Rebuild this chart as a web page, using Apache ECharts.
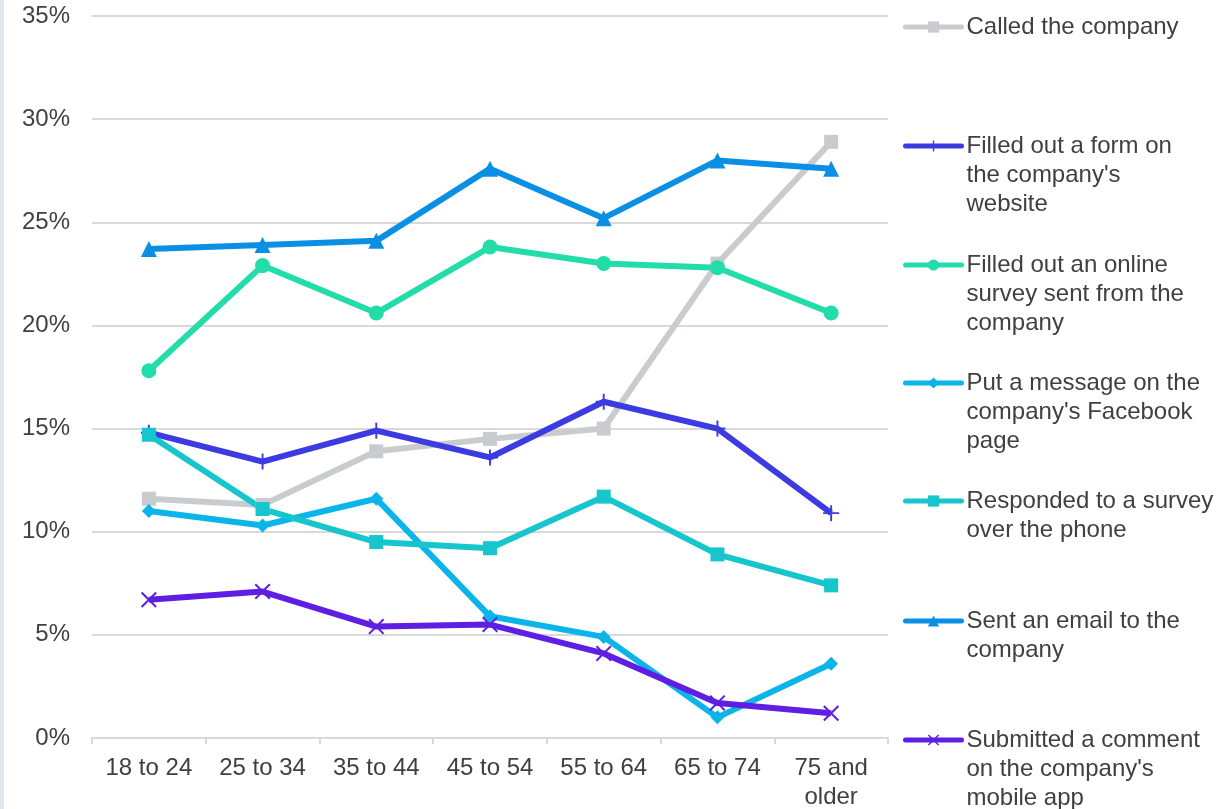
<!DOCTYPE html>
<html>
<head>
<meta charset="utf-8">
<script src="https://cdn.jsdelivr.net/npm/echarts@6/dist/echarts.min.js"></script>
<style>
  html, body { margin: 0; padding: 0; background: #fff; }
  #main { width: 1225px; height: 809px; box-sizing: border-box; border-left: 4px solid #e0e8ee; }
</style>
</head>
<body>
<div id="main"></div>
<script>
// categories and series (values in %)
var ageGroups = ['18 to 24', '25 to 34', '35 to 44', '45 to 54', '55 to 64', '65 to 74', '75 and\nolder'];
var yTicks = [0, 5, 10, 15, 20, 25, 30, 35];

var seriesNames = [
    'Called the company',
    "Filled out a form on the company's website",
    'Filled out an online survey sent from the company',
    "Put a message on the company's Facebook page",
    'Responded to a survey over the phone',
    'Sent an email to the company',
    "Submitted a comment on the company's mobile app"
];
// legend text as wrapped in the picture
var legendLines = [
    'Called the company',
    "Filled out a form on\nthe company's\nwebsite",
    'Filled out an online\nsurvey sent from the\ncompany',
    "Put a message on the\ncompany's Facebook\npage",
    'Responded to a survey\nover the phone',
    'Sent an email to the\ncompany',
    "Submitted a comment\non the company's\nmobile app"
];

var calledCompany = [11.6, 11.3, 13.9, 14.5, 15.0, 23.0, 28.9];
var filledForm    = [14.8, 13.4, 14.9, 13.6, 16.3, 15.0, 10.9];
var onlineSurvey  = [17.8, 22.9, 20.6, 23.8, 23.0, 22.8, 20.6];
var facebookMsg   = [11.0, 10.3, 11.6, 5.9, 4.9, 1.0, 3.6];
var phoneSurvey   = [14.7, 11.1, 9.5, 9.2, 11.7, 8.9, 7.4];
var sentEmail     = [23.7, 23.9, 24.1, 27.6, 25.2, 28.0, 27.6];
var mobileComment = [6.7, 7.1, 5.4, 5.5, 4.1, 1.7, 1.2];

var allValues = [calledCompany, filledForm, onlineSurvey, facebookMsg, phoneSurvey, sentEmail, mobileComment];

var colors = ['#c9ccce', '#3b3be1', '#22dcaa', '#0bb5ea', '#17c5cc', '#0b8fe5', '#5f1fe2'];
var plusPath = 'path://M4.4,0 H5.6 V4.4 H10 V5.6 H5.6 V10 H4.4 V5.6 H0 V4.4 H4.4 Z';
var crossPath = 'path://M0,0.9 L0.9,0 L5,4.1 L9.1,0 L10,0.9 L5.9,5 L10,9.1 L9.1,10 L5,5.9 L0.9,10 L0,9.1 L4.1,5 Z';
var symbols = ['rect', plusPath, 'circle', 'diamond', 'rect', 'triangle', crossPath];
var symbolSizes = [14, 16, 15, 14, 14, 16, 16];

var myChart = echarts.init(document.getElementById('main'));

var fontFam = '"Liberation Sans", Arial, sans-serif';
var textCol = '#404040';
var lineH = 29;
var legendCenters = [27, 146, 265, 383, 501, 621, 740];

var legends = [];
var series = [];
for (var i = 0; i < seriesNames.length; i++) {
    var n = legendLines[i].split('\n').length;
    // leading blank lines so the icon sits beside the first text line
    var lead = new Array(n).join('\n');
    legends.push({
        data: [seriesNames[i]],
        orient: 'vertical',
        left: 899,
        top: legendCenters[i] - (2 * n - 1) * lineH / 2,
        padding: 0,
        itemWidth: 56,
        itemHeight: 14,
        selectedMode: false,
        lineStyle: { width: 5, cap: 'round' },
        formatter: (function (k, pre) { return function () { return pre + legendLines[k]; }; })(i, lead),
        textStyle: {
            fontFamily: fontFam,
            fontSize: 24,
            color: textCol,
            lineHeight: lineH
        }
    });
    series.push({
        name: seriesNames[i],
        type: 'line',
        data: allValues[i],
        symbol: symbols[i],
        symbolSize: symbolSizes[i],
        showAllSymbol: true,
        lineStyle: { width: 6, color: colors[i], join: 'round' },
        itemStyle: { color: colors[i] }
    });
}

var option = {
    animation: false,
    color: colors,
    legend: legends,
    grid: {
        left: 88,
        right: 337,
        top: 16,
        bottom: 71,
        outerBoundsMode: 'none'
    },
    xAxis: {
        type: 'category',
        data: ageGroups,
        boundaryGap: true,
        axisLine: { lineStyle: { color: '#d9d9d9', width: 2 } },
        axisTick: { show: true, length: 6, lineStyle: { color: '#d9d9d9', width: 2 } },
        axisLabel: {
            fontFamily: fontFam,
            fontSize: 24,
            color: textCol,
            lineHeight: lineH,
            margin: 16
        }
    },
    yAxis: {
        type: 'value',
        min: yTicks[0],
        max: yTicks[yTicks.length - 1],
        interval: 5,
        axisLine: { show: false },
        axisTick: { show: false },
        splitLine: { lineStyle: { color: '#d9d9d9', width: 2 } },
        axisLabel: {
            formatter: '{value}%',
            fontFamily: fontFam,
            fontSize: 24,
            color: textCol,
            margin: 22
        }
    },
    series: series
};
myChart.setOption(option);
</script>
</body>
</html>
